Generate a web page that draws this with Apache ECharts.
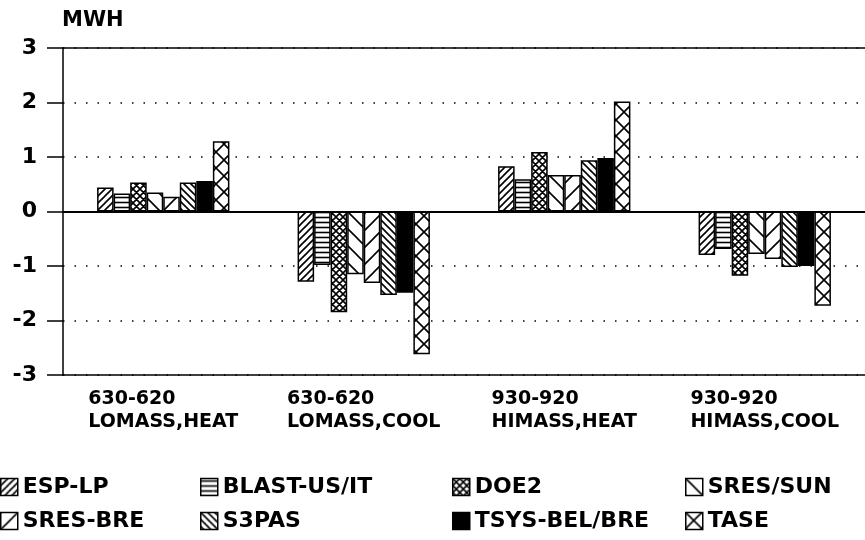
<!DOCTYPE html>
<html>
<head>
<meta charset="utf-8">
<script src="https://cdn.jsdelivr.net/npm/echarts@6/dist/echarts.min.js"></script>
<style>
  html, body { margin: 0; padding: 0; background: #fff; }
  #main { width: 865px; height: 540px; }
</style>
</head>
<body>
<div id="main"></div>
<script>
// data
const categories = ['630-620\nLOMASS,HEAT', '630-620\nLOMASS,COOL', '930-920\nHIMASS,HEAT', '930-920\nHIMASS,COOL'];
const seriesNames = ['ESP-LP', 'BLAST-US/IT', 'DOE2', 'SRES/SUN', 'SRES-BRE', 'S3PAS', 'TSYS-BEL/BRE', 'TASE'];
const espLp    = [0.44, -1.29, 0.83, -0.80];
const blast    = [0.33, -0.98, 0.59, -0.69];
const doe2     = [0.53, -1.85, 1.09, -1.18];
const sresSun  = [0.35, -1.15, 0.67, -0.78];
const sresBre  = [0.27, -1.31, 0.67, -0.87];
const s3pas    = [0.53, -1.53, 0.94, -1.02];
const tsys     = [0.56, -1.49, 0.98, -1.00];
const tase     = [1.29, -2.62, 2.02, -1.73];
const yTicks   = [-3, -2, -1, 0, 1, 2, 3];

const allValues = [espLp, blast, doe2, sresSun, sresBre, s3pas, tsys, tase];
const FONT = 'DejaVu Sans';

// hatch patterns drawn on small canvases
function hatch(kind, p) {
    const c = document.createElement('canvas');
    c.width = p; c.height = p;
    const g = c.getContext('2d');
    g.fillStyle = '#fff';
    g.fillRect(0, 0, p, p);
    g.strokeStyle = '#000';
    g.lineWidth = 1.6;
    g.beginPath();
    if (kind === 'fwd' || kind === 'cross') {
        g.moveTo(-1, p + 1); g.lineTo(p + 1, -1);
        g.moveTo(-1, 1); g.lineTo(1, -1);
        g.moveTo(p - 1, p + 1); g.lineTo(p + 1, p - 1);
    }
    if (kind === 'back' || kind === 'cross') {
        g.moveTo(-1, -1); g.lineTo(p + 1, p + 1);
        g.moveTo(p - 1, -1); g.lineTo(p + 1, 1);
        g.moveTo(-1, p - 1); g.lineTo(1, p + 1);
    }
    if (kind === 'horiz') {
        g.moveTo(0, p / 2); g.lineTo(p, p / 2);
    }
    g.stroke();
    return { image: c, repeat: 'repeat' };
}

const fills = [
    hatch('fwd', 7),
    hatch('horiz', 5),
    hatch('cross', 7),
    hatch('back', 17),
    hatch('fwd', 17),
    hatch('back', 7),
    '#000',
    hatch('cross', 16)
];

const legendPos = [
    [0, 476], [200, 476], [452, 476], [685, 476],
    [0, 510], [200, 510], [452, 510], [685, 510]
];

const chart = echarts.init(document.getElementById('main'));

const series = seriesNames.map((name, i) => {
    const s = {
        name: name,
        type: 'bar',
        data: allValues[i],
        barGap: '0%',
        barCategoryGap: '34%',
        itemStyle: { color: fills[i], borderColor: '#000', borderWidth: 1.5 },
        emphasis: { disabled: true }
    };
    if (i === 0) {
        s.markLine = {
            silent: true,
            symbol: 'none',
            label: { show: false },
            lineStyle: { color: '#000', width: 2, type: 'solid' },
            data: [{ yAxis: 0 }]
        };
    }
    return s;
});

const legends = seriesNames.map((name, i) => ({
    data: [name],
    left: legendPos[i][0],
    top: legendPos[i][1],
    padding: 0,
    icon: 'rect',
    itemWidth: 17,
    itemHeight: 17,
    selectedMode: false,
    itemStyle: { borderColor: '#000', borderWidth: 1.5 },
    textStyle: { fontFamily: FONT, fontWeight: 'bold', fontSize: 22, color: '#000' }
}));

const option = {
    backgroundColor: '#fff',
    animation: false,
    title: {
        text: 'MWH',
        left: 62,
        top: 10,
        padding: 0,
        textStyle: { fontFamily: FONT, fontWeight: 'bold', fontSize: 21, color: '#000' }
    },
    legend: legends,
    grid: {
        left: 63, top: 48, width: 808, height: 327,
        containLabel: false
    },
    xAxis: [
        {
            type: 'category',
            data: categories,
            axisLine: { onZero: false, lineStyle: { color: '#000', width: 1.5 } },
            axisTick: { alignWithLabel: true, length: 5, lineStyle: { color: '#000', width: 1.2 } },
            axisLabel: {
                margin: 13,
                color: '#000',
                formatter: v => v.split('\n').map(s => '{a|' + s + '}').join('\n'),
                rich: {
                    a: { fontFamily: FONT, fontWeight: 'bold', fontSize: 19, color: '#000', align: 'left', lineHeight: 23 }
                }
            }
        },
        {
            // top frame line
            type: 'category',
            data: categories,
            position: 'top',
            axisLine: { onZero: false, lineStyle: { color: '#000', width: 1.5 } },
            axisTick: { show: false },
            axisLabel: { show: false }
        }
    ],
    yAxis: {
        type: 'value',
        min: yTicks[0],
        max: yTicks[yTicks.length - 1],
        interval: 1,
        axisLine: { show: true, lineStyle: { color: '#000', width: 1.5 } },
        axisTick: { show: true, length: 16, lineStyle: { color: '#000', width: 1.5 } },
        axisLabel: { margin: 26, color: '#000', fontFamily: FONT, fontWeight: 'bold', fontSize: 22 },
        splitLine: { show: true, lineStyle: { color: '#000', width: 1.5, type: [1.5, 10] } }
    },
    series: series
};

chart.setOption(option);
</script>
</body>
</html>
